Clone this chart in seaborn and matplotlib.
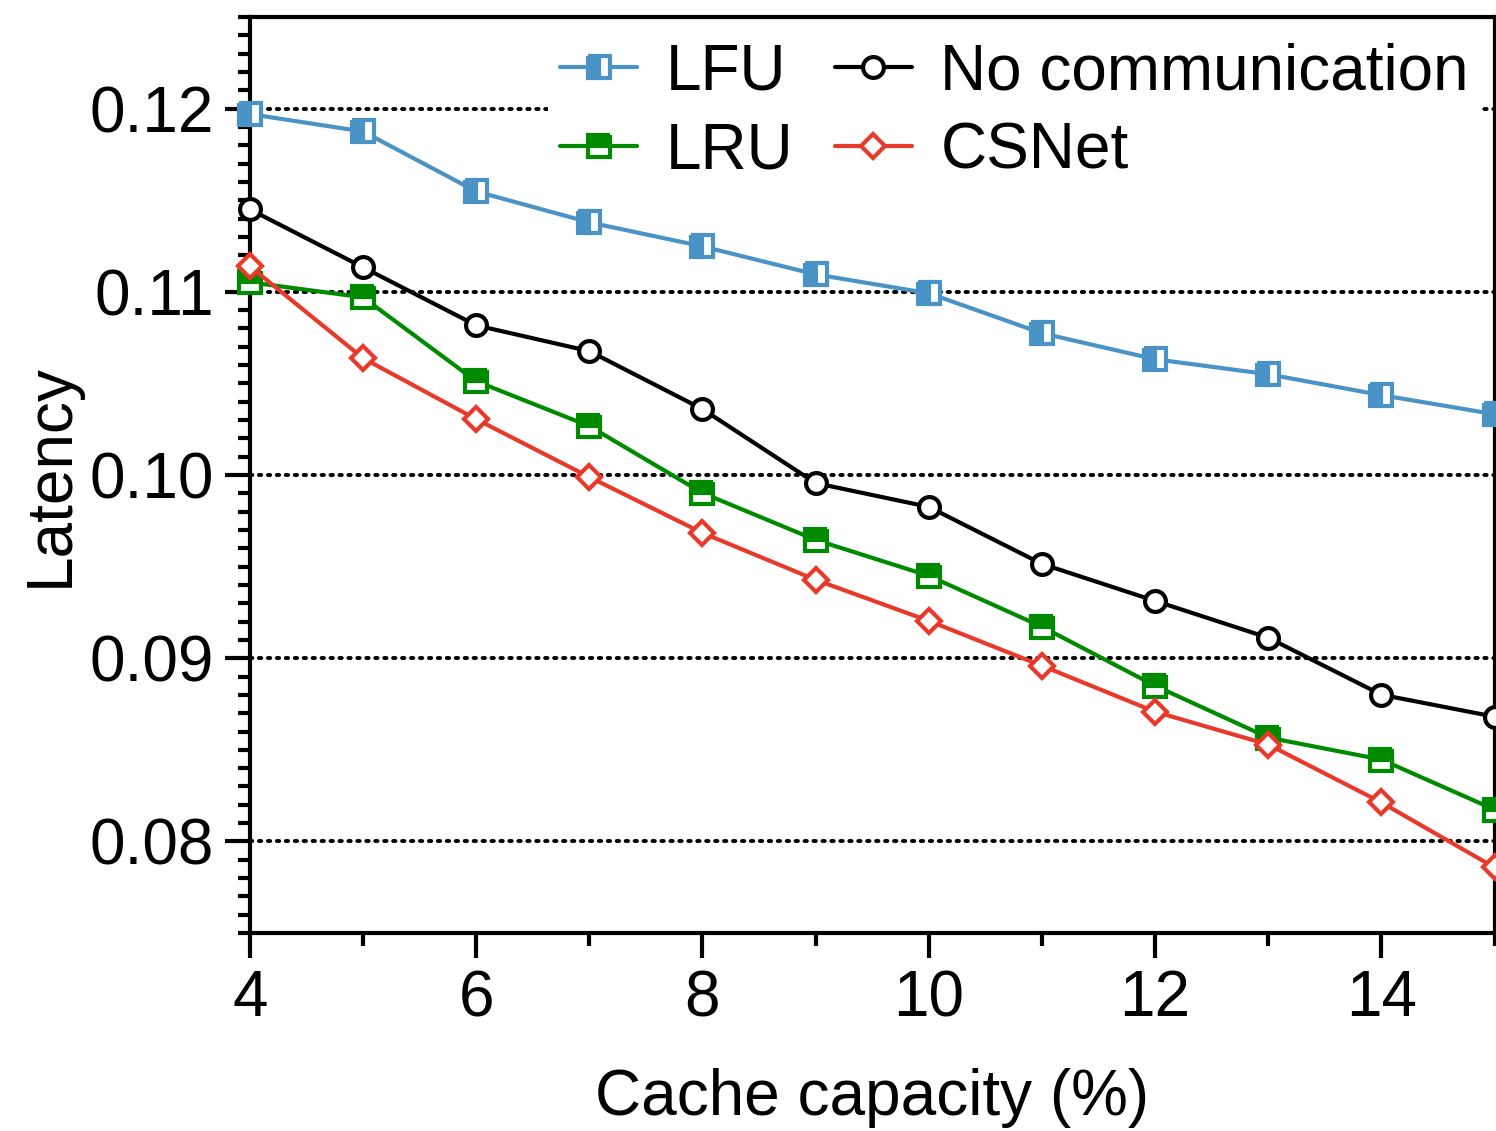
import matplotlib
matplotlib.use("Agg")
import matplotlib.pyplot as plt
import seaborn as sns
import pandas as pd
from matplotlib.ticker import MultipleLocator

capacity = [4, 5, 6, 7, 8, 9, 10, 11, 12, 13, 14, 15]
lfu = [0.1197, 0.11875, 0.11548, 0.11379, 0.11248, 0.11095, 0.10992, 0.10774, 0.10632, 0.1055, 0.10436, 0.10332]
no_comm = [0.11450, 0.11134, 0.10817, 0.10676, 0.10360, 0.09956, 0.09826, 0.09515, 0.09313, 0.09112, 0.08801, 0.08681]
lru = [0.11052, 0.1097, 0.10512, 0.10267, 0.09902, 0.09646, 0.0945, 0.09172, 0.0885, 0.08567, 0.08447, 0.08174]
csnet = [0.11139, 0.10638, 0.10305, 0.09989, 0.09684, 0.09428, 0.09204, 0.08959, 0.08708, 0.08529, 0.08213, 0.07858]

x_ticks = [4, 6, 8, 10, 12, 14]
y_ticks = [0.08, 0.09, 0.10, 0.11, 0.12]
y_ticklabels = ["0.08", "0.09", "0.10", "0.11", "0.12"]

sns.set_theme(style="white")
plt.rcParams['font.family'] = ['Liberation Sans', 'DejaVu Sans']
plt.rcParams['axes.linewidth'] = 1.5
plt.rcParams['text.color'] = 'black'
plt.rcParams['axes.labelcolor'] = 'black'
plt.rcParams['xtick.color'] = 'black'
plt.rcParams['ytick.color'] = 'black'

fig = plt.figure(figsize=(7.48, 5.655), dpi=200)
ax = fig.add_axes([0.167, 0.175, 0.832, 0.81])

series = [
    ("LFU", lfu, dict(color="#4a93c6", marker="s", fillstyle="left", markerfacecoloralt="white", ms=8)),
    ("LRU", lru, dict(color="#008a00", marker="s", fillstyle="top", markerfacecoloralt="white", ms=8)),
    ("No communication", no_comm, dict(color="black", marker="o", markerfacecolor="white", ms=7.5)),
    ("CSNet", csnet, dict(color="#e8392a", marker="D", markerfacecolor="white", ms=6)),
]
for name, vals, kw in series:
    df = pd.DataFrame({"x": capacity, "y": vals})
    color = kw.pop("color")
    sns.lineplot(data=df, x="x", y="y", ax=ax, color=color, label=name,
                 linewidth=1.5, markeredgewidth=1.5, markeredgecolor=color,
                 clip_on=False, zorder=3, **kw)

ax.set_xlim(4, 15)
ax.set_ylim(0.075, 0.125)
ax.set_xticks(x_ticks)
ax.set_xticklabels([str(t) for t in x_ticks])
ax.xaxis.set_minor_locator(MultipleLocator(1))
ax.set_yticks(y_ticks)
ax.set_yticklabels(y_ticklabels)
ax.yaxis.set_minor_locator(MultipleLocator(0.001))
ax.tick_params(axis="both", which="major", direction="out", length=9, width=1.5,
               labelsize=23, color="black", labelcolor="black", left=True, bottom=True, pad=4)
ax.tick_params(axis="both", which="minor", direction="out", length=4.5, width=1.5,
               color="black", left=True, bottom=True)
for s in ax.spines.values():
    s.set_color("black")
    s.set_linewidth(1.5)

ax.grid(False)
for yv in y_ticks:
    ax.axhline(yv, color="black", linestyle=(0, (0.6, 1.7)), linewidth=1.4,
               dash_capstyle="round", zorder=1)

ax.set_xlabel("Cache capacity (%)", fontsize=23, labelpad=14, color="black")
ax.set_ylabel("Latency", fontsize=23, labelpad=3, color="black")

handles, labels = ax.get_legend_handles_labels()
leg = ax.legend(handles, labels,
                ncol=2, loc="upper right", fontsize=23, frameon=True,
                handlelength=1.2, handletextpad=0.45, columnspacing=0.65,
                labelspacing=0.3, borderaxespad=0.2, borderpad=0.2)
leg.get_frame().set_facecolor("white")
leg.get_frame().set_edgecolor("none")
leg.get_frame().set_alpha(1)
leg.set_zorder(5)
for t in leg.get_texts():
    t.set_color("black")

fig.savefig("out.png", dpi=200)
